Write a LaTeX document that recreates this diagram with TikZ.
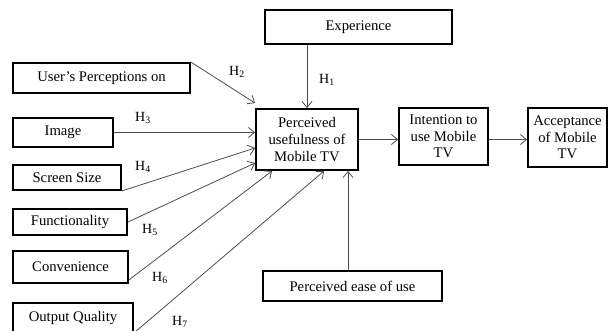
\documentclass[tikz,border=0pt]{standalone}
\usepackage{fontspec}
\setmainfont{Liberation Serif}
\usetikzlibrary{arrows.meta,calc}
\tikzset{
	box/.style={draw, line width=1.4pt, align=center, inner sep=0pt, font=\fontsize{11}{12.5}\selectfont},
	arr/.style={->, draw=black!70, line width=0.6pt},
	hyp/.style={font=\fontsize{10.5}{12.5}\selectfont}
}
\begin{document}
\begin{tikzpicture}[>={Straight Barb[length=4.5pt,width=7.5pt]}, x=0.75pt, y=-0.75pt]
			\useasboundingbox (0,0) rectangle (608,330);
			% boxes
			\node[box, minimum width=140.25pt, minimum height=25.5pt] (exp) at (358.5,27) {Experience};
			\node[box, minimum width=76.5pt, minimum height=45.75pt] (pu) at (307,139.5) {Perceived\\usefulness of\\Mobile TV};
			\node[box, minimum width=66.75pt, minimum height=42.75pt] (int) at (443.5,136.5) {Intention to\\use Mobile\\TV};
			\node[box, minimum width=59.25pt, minimum height=44.25pt] (acc) at (567.5,137.5) {Acceptance\\of Mobile\\TV};
			\node[box, minimum width=134.25pt, minimum height=22.5pt] (peou) at (352.5,286) {Perceived ease of use};
			\node[box, minimum width=132.75pt, minimum height=22.5pt] (usr) at (101.5,78) {User's Perceptions on};
			\node[box, minimum width=75pt, minimum height=21.75pt] (img) at (63,132.5) {Image};
			\node[box, minimum width=81pt, minimum height=18.75pt] (scr) at (67,177.5) {Screen Size};
			\node[box, minimum width=85.5pt, minimum height=19.5pt] (fun) at (70,222) {Functionality};
			\node[box, minimum width=86.25pt, minimum height=24pt] (con) at (70.5,267) {Convenience};
			\node[box, minimum width=90pt, minimum height=21.75pt] (out) at (73,317.5) {Output Quality};
			% connectors
			\draw[arr] (pu.north |- exp.south) -- (pu.north);
			\draw[arr] (usr.north east) -- ($(pu.north west)+(0,-5)$);
			\draw[arr] (img.east) -- (img.east -| pu.west);
			\draw[arr] (scr.south east) -- ($(pu.west)+(0,8.5)$);
			\draw[arr] (fun.east) -- ($(pu.west)+(0,23.5)$);
			\draw[arr] ($(con.south east)+(0,-4)$) -- ($(pu.south west)+(17,0)$);
			\draw[arr] (out.south east) -- ($(pu.south west)+(69,0)$);
			\draw[arr] ($(peou.north)+(-4.5,0)$) coordinate (pe) -- (pe |- pu.south);
			\draw[arr] (pu.east) -- (pu.east -| int.west);
			\draw[arr] (pu.east -| int.east) -- (pu.east -| acc.west);
			% hypotheses
			\node[hyp] (h1) at (327,80) {H\textsubscript{1}};
			\node[hyp] (h2) at (237,72) {H\textsubscript{2}};
			\node[hyp] (h3) at (143,118) {H\textsubscript{3}};
			\node[hyp] (h4) at (143,167) {H\textsubscript{4}};
			\node[hyp] (h5) at (150,230) {H\textsubscript{5}};
			\node[hyp] (h6) at (160,278) {H\textsubscript{6}};
			\node[hyp] (h7) at (180,322) {H\textsubscript{7}};
		\end{tikzpicture}
\end{document}
